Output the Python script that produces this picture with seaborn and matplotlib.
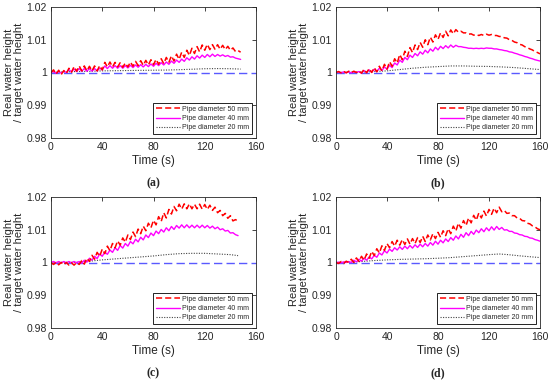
import numpy as np
import pandas as pd
import matplotlib
matplotlib.use("Agg")
import matplotlib.pyplot as plt
import seaborn as sns

# ---------------- data (deviation from 1, in units of 0.001) ----------------
t_a = list(range(0, 149, 2))
a_50 = [0.0, 0.8, -0.5, 0.7, -0.6, 0.6, -0.3, 1.3, 0.1, 1.8,
        0.4, 2.0, 0.5, 2.0, 0.5, 1.9, 0.5, 2.0, 0.5, 2.1,
        0.8, 3.1, 1.7, 3.2, 1.7, 3.1, 1.7, 3.0, 1.6, 2.9,
        1.7, 3.2, 1.9, 3.4, 2.1, 3.6, 2.2, 3.7, 2.3, 3.9,
        2.4, 4.0, 2.5, 4.2, 2.7, 4.6, 3.1, 5.1, 3.5, 5.6,
        4.0, 6.2, 4.6, 6.8, 5.2, 7.4, 5.8, 7.9, 6.3, 8.4,
        6.8, 8.6, 7.0, 8.5, 7.1, 8.5, 7.1, 8.3, 7.0, 8.0,
        6.8, 7.5, 6.4, 6.7, 6.2]
a_40 = [0.0, 0.3, -0.2, 0.3, -0.2, 0.4, 0.0, 0.9, 0.2, 1.1,
        0.3, 1.2, 0.4, 1.2, 0.4, 1.2, 0.4, 1.2, 0.5, 1.3,
        0.8, 2.0, 1.2, 2.1, 1.3, 2.1, 1.3, 2.1, 1.3, 2.1,
        1.4, 2.2, 1.5, 2.3, 1.6, 2.4, 1.7, 2.5, 1.8, 2.6,
        1.9, 2.8, 2.1, 3.0, 2.3, 3.2, 2.5, 3.5, 2.8, 3.8,
        3.1, 4.1, 3.4, 4.5, 3.8, 4.8, 4.1, 5.1, 4.4, 5.3,
        4.6, 5.5, 4.8, 5.6, 4.9, 5.5, 5.0, 5.4, 4.9, 5.2,
        4.7, 4.8, 4.4, 4.2, 4.0]
t_a20 = [0, 10, 20, 30, 40, 50, 60, 70, 80, 90, 100, 110, 120, 130, 140, 148]
a_20 = [0.0, 0.2, 0.3, 0.35, 0.5, 0.55, 0.6, 0.65, 0.7, 0.75, 0.85, 1.0, 1.15, 1.2, 1.15, 1.05]

t_b = list(range(0, 161, 2))
b_50 = [0.0, 0.3, -0.1, 0.4, -0.1, 0.4, 0.0, 0.4, 0.0, 0.5,
        -0.2, 1.0, -0.1, 1.2, 0.0, 1.5, 0.2, 1.9, 0.5, 2.5,
        1.0, 3.3, 1.9, 4.2, 2.9, 5.5, 3.9, 6.5, 4.9, 7.6,
        6.1, 8.4, 7.0, 9.2, 7.7, 10.0, 8.5, 10.8, 9.3, 11.5,
        10.1, 12.1, 10.7, 12.6, 11.2, 13.0, 11.8, 13.1, 12.3, 12.6,
        12.1, 12.1, 11.7, 11.8, 11.4, 11.6, 11.3, 11.6, 11.3, 11.7,
        11.4, 11.6, 11.3, 11.3, 11.0, 11.0, 10.6, 10.5, 10.0, 9.8,
        9.3, 9.1, 8.6, 8.4, 7.9, 7.6, 7.2, 6.9, 6.4, 6.1, 5.7]
b_40 = [0.0, 0.2, -0.1, 0.2, -0.1, 0.2, -0.1, 0.2, 0.0, 0.3,
        -0.2, 0.6, 0.0, 0.8, 0.1, 1.0, 0.3, 1.3, 0.6, 1.7,
        1.0, 2.2, 1.5, 2.9, 2.3, 3.8, 3.1, 4.6, 3.9, 5.3,
        4.6, 5.8, 5.1, 6.3, 5.6, 6.8, 6.0, 7.2, 6.5, 7.7,
        6.9, 8.0, 7.3, 8.2, 7.5, 8.4, 7.7, 8.3, 7.9, 7.9,
        7.7, 7.6, 7.4, 7.4, 7.3, 7.4, 7.3, 7.4, 7.3, 7.5,
        7.4, 7.4, 7.2, 7.2, 7.0, 6.9, 6.7, 6.6, 6.3, 6.2,
        5.9, 5.7, 5.4, 5.2, 4.9, 4.7, 4.4, 4.2, 3.9, 3.7, 3.5]
t_b20 = [0, 10, 20, 30, 40, 50, 60, 70, 80, 90, 100, 110, 120, 130, 140, 150, 160]
b_20 = [0.0, 0.1, 0.15, 0.3, 0.5, 0.9, 1.3, 1.6, 1.8, 2.0, 2.0, 1.9, 1.85, 1.7, 1.5, 1.2, 0.9]

t_c = list(range(0, 147, 2))
c_50 = [0.0, -0.6, 0.1, -0.7, 0.0, -0.7, 0.0, -0.8, -0.1, -0.8, 0.0, -0.6,
        0.6, -0.5, 1.3, 0.3, 2.2, 1.0, 3.1, 1.9, 4.1, 2.7, 5.0, 3.6, 5.8, 4.5,
        6.6, 5.3, 7.5, 6.2, 8.4, 7.0, 9.3, 7.9, 10.2, 8.8, 11.1, 9.7, 12.0, 10.6,
        12.9, 11.5, 14.0, 12.5, 15.2, 13.6, 16.2, 14.8, 17.1, 15.8, 17.8, 16.3,
        17.9, 16.4, 17.9, 16.4, 17.8, 16.4, 17.8, 16.3, 17.7, 16.2, 17.5, 15.9,
        16.9, 15.2, 15.9, 14.3, 15.0, 13.5, 14.3, 12.7, 13.1, 12.6]
c_40 = [0.0, 0.3, -0.1, 0.3, -0.1, 0.3, -0.1, 0.3, -0.1, 0.3, -0.1, 0.3,
        -0.2, 0.7, 0.1, 1.3, 0.7, 1.9, 1.2, 2.6, 1.9, 3.2, 2.5, 3.8, 3.1, 4.5,
        3.7, 5.2, 4.4, 5.8, 5.0, 6.4, 5.7, 7.1, 6.3, 7.7, 6.9, 8.4, 7.6, 9.0,
        8.2, 9.6, 8.8, 10.1, 9.3, 10.6, 9.7, 11.0, 10.1, 11.3, 10.5, 11.5,
        10.6, 11.5, 10.6, 11.4, 10.6, 11.4, 10.6, 11.4, 10.6, 11.3, 10.5, 11.1,
        10.3, 10.8, 10.0, 10.3, 9.6, 9.8, 9.0, 9.1, 8.5, 8.2]
t_c20 = [0, 10, 20, 30, 40, 50, 60, 70, 80, 90, 100, 110, 120, 130, 140, 146]
c_20 = [0.0, 0.05, 0.1, 0.4, 0.8, 1.1, 1.4, 1.7, 2.0, 2.4, 2.7, 2.8, 2.8, 2.6, 2.4, 2.1]

t_d = list(range(0, 161, 2))
d_50 = [0.0, -0.3, 0.3, -0.3, 0.4, 0.0,
        1.0, 0.0, 1.4, 0.3, 1.9, 0.7, 2.6, 1.3, 3.4, 2.1, 4.2, 2.9, 5.1, 3.7,
        5.8, 4.5, 6.4, 5.0, 6.8, 5.3, 7.0, 5.5, 7.2, 5.6, 7.3, 5.8, 7.6, 6.1,
        8.0, 6.4, 8.4, 6.9, 8.8, 7.3, 9.2, 7.7, 9.7, 8.2, 10.3, 8.8, 11.1, 9.6,
        12.0, 10.5, 12.8, 11.3, 13.6, 12.1, 14.4, 12.9, 15.1, 13.6, 15.7, 14.2,
        16.2, 14.7, 16.6, 15.2, 16.9, 15.5,
        15.9, 15.0, 15.1, 14.3, 14.3, 13.6, 13.5, 12.8, 12.7, 12.0, 11.8, 11.2, 10.9, 10.3, 10.0]
d_40 = [0.0, 0.1, -0.1, 0.2, 0.0, 0.3,
        0.0, 0.7, 0.2, 1.0, 0.4, 1.3, 0.7, 1.7, 1.1, 2.2, 1.6, 2.9, 2.3, 3.6,
        2.9, 4.1, 3.4, 4.5, 3.8, 4.8, 4.0, 5.0, 4.2, 5.2, 4.4, 5.4, 4.6, 5.6,
        4.8, 5.8, 5.0, 6.1, 5.3, 6.5, 5.6, 6.8, 6.0, 7.2, 6.4, 7.6, 6.8, 8.1,
        7.2, 8.6, 7.7, 9.1, 8.2, 9.5, 8.6, 9.9, 9.1, 10.3, 9.4, 10.6, 9.7, 10.9,
        9.9, 11.0, 10.1, 10.7,
        9.9, 10.0, 9.5, 9.5, 9.0, 8.9, 8.5, 8.4, 8.0, 7.9, 7.5, 7.4, 7.0, 6.8, 6.5]
t_d20 = [0, 10, 20, 30, 40, 50, 60, 70, 80, 90, 100, 110, 120, 128, 135, 145, 160]
d_20 = [0.0, 0.1, 0.3, 0.6, 0.8, 0.95, 1.05, 1.15, 1.3, 1.5, 1.8, 2.1, 2.4, 2.6, 2.4, 2.0, 1.5]

target_t = [0, 160]
target_v = [1.0, 1.0]

labels = ["Pipe diameter 50 mm", "Pipe diameter 40 mm", "Pipe diameter 20 mm"]
panel_names = ["(a)", "(b)", "(c)", "(d)"]
x_ticks = [0, 40, 80, 120, 160]
y_ticks = [0.98, 0.99, 1.0, 1.01, 1.02]
y_ticklabels = ["0.98", "0.99", "1", "1.01", "1.02"]

panels = [
    (t_a, a_50, t_a, a_40, t_a20, a_20),
    (t_b, b_50, t_b, b_40, t_b20, b_20),
    (t_c, c_50, t_c, c_40, t_c20, c_20),
    (t_d, d_50, t_d, d_40, t_d20, d_20),
]

# ---------------- style ----------------
sns.set_style("white")
plt.rcParams["font.family"] = ["Liberation Sans", "DejaVu Sans"]
plt.rcParams["xtick.direction"] = "in"
plt.rcParams["ytick.direction"] = "in"

fig = plt.figure(figsize=(5.5, 3.83), dpi=100)
W, H = 550, 383
boxes = [(51, 7, 256, 138), (336, 7, 540, 138), (51, 197, 256, 328), (336, 197, 540, 328)]


def to_ratio(dev):
    return [1 + v / 1000.0 for v in dev]


for i, (box, series) in enumerate(zip(boxes, panels)):
    l, t, r, b = box
    ax = fig.add_axes([l / W, 1 - b / H, (r - l) / W, (b - t) / H])
    t50, v50, t40, v40, t20, v20 = series
    sns.lineplot(x=target_t, y=target_v, ax=ax, color="#5a5aff", linestyle=(0, (6, 3)), lw=1.0)
    sns.lineplot(x=t20, y=to_ratio(v20), ax=ax, color="#444444", linestyle=(0, (1, 1.3)), lw=0.8)
    sns.lineplot(x=t40, y=to_ratio(v40), ax=ax, color="#ff00ff", linestyle="-", lw=1.0)
    sns.lineplot(x=t50, y=to_ratio(v50), ax=ax, color="#ff0000", linestyle=(0, (4, 2)), lw=1.1)
    lines = ax.get_lines()
    handles = [lines[3], lines[2], lines[1]]
    leg = ax.legend(handles, labels, loc="lower right", fontsize=5.0, frameon=True,
                    fancybox=False, edgecolor="#000000", framealpha=1, handlelength=3.4,
                    borderpad=0.4, labelspacing=0.3, handletextpad=0.3, borderaxespad=0.6)
    leg.get_frame().set_linewidth(0.6)
    ax.set_xlim(0, 160)
    ax.set_ylim(0.98, 1.02)
    ax.set_xticks(x_ticks)
    ax.set_yticks(y_ticks)
    ax.set_yticklabels(y_ticklabels)
    ax.tick_params(axis="both", labelsize=7.5, length=3, width=0.6, colors="#262626",
                   top=True, right=True, pad=3)
    for s in ax.spines.values():
        s.set_linewidth(0.6)
        s.set_color("#262626")
    ax.set_xlabel("Time (s)", fontsize=8.5, labelpad=2, color="#262626")
    ax.set_ylabel("Real water height\n/ target water height", fontsize=8,
                  labelpad=1.5, color="#262626", linespacing=1.0)
    fig.text((l + r) / 2 / W, 1 - (b + 45) / H, panel_names[i], ha="center", va="center",
             fontsize=8.5, fontweight="bold", family="Liberation Serif")

fig.savefig("out.png", dpi=100)
